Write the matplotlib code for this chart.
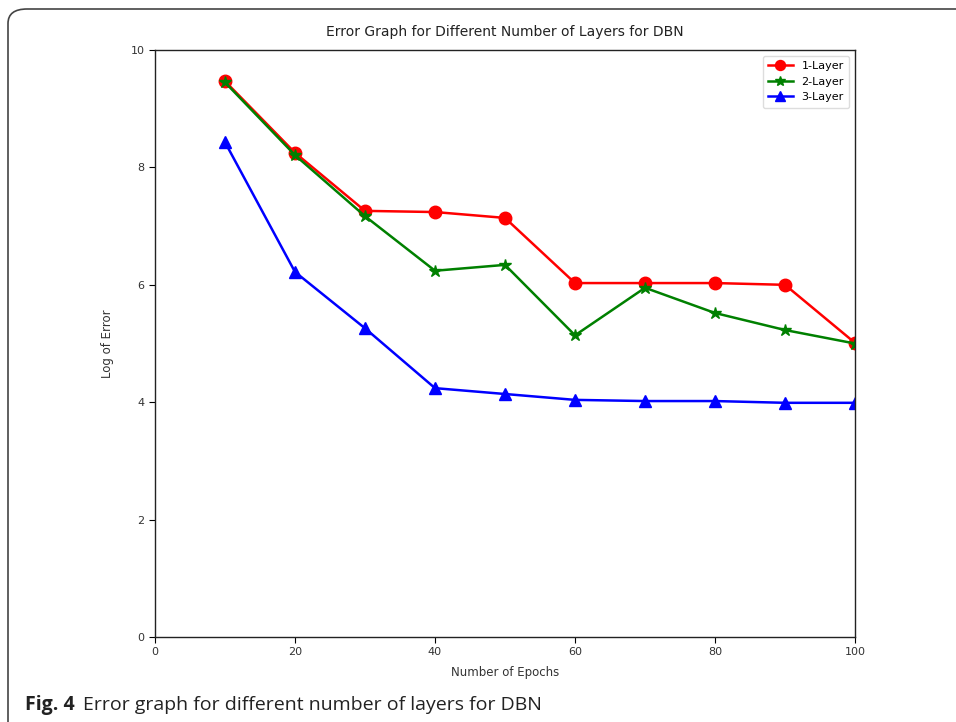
import matplotlib
matplotlib.use("Agg")
import matplotlib.pyplot as plt
from matplotlib.patches import FancyBboxPatch

epochs = [10, 20, 30, 40, 50, 60, 70, 80, 90, 100]
layer1 = [9.47, 8.25, 7.26, 7.24, 7.14, 6.03, 6.03, 6.03, 6.00, 5.01]
layer2 = [9.45, 8.21, 7.17, 6.24, 6.34, 5.14, 5.95, 5.52, 5.23, 5.00]
layer3 = [8.43, 6.22, 5.26, 4.24, 4.14, 4.04, 4.02, 4.02, 3.99, 3.99]
labels = ["1-Layer", "2-Layer", "3-Layer"]

narrow = ["Liberation Sans Narrow", "DejaVu Sans"]

fig = plt.figure(figsize=(9.56, 7.22), dpi=100)
ax = fig.add_axes([0.1621, 0.1177, 0.7323, 0.813])

ax.plot(epochs, layer1, "o-", color="red", lw=1.8, ms=9, label=labels[0])
ax.plot(epochs, layer2, "*-", color="green", lw=1.8, ms=9, label=labels[1])
ax.plot(epochs, layer3, "^-", color="blue", lw=1.8, ms=9, label=labels[2])

ax.set_xlim(0, 100)
ax.set_ylim(0, 10)
ax.set_xticks([0, 20, 40, 60, 80, 100])
ax.set_yticks([0, 2, 4, 6, 8, 10])
for lab in ax.get_xticklabels() + ax.get_yticklabels():
    lab.set_family(narrow)
    lab.set_fontsize(8)
    lab.set_color("#333333")
ax.tick_params(length=4, width=0.8)
for s in ax.spines.values():
    s.set_linewidth(1.0)
    s.set_color("#222222")

ax.set_title("Error Graph for Different Number of Layers for DBN",
             family=narrow, fontsize=10, color="#222222", pad=10)
ax.set_xlabel("Number of Epochs", family=narrow, fontsize=8.5, color="#333333", labelpad=6)
ax.set_ylabel("Log of Error", family=narrow, fontsize=8.5, color="#333333", labelpad=12)

leg = ax.legend(loc="upper right", prop={"family": narrow, "size": 8}, framealpha=1,
                edgecolor="#dddddd", handlelength=2.2, borderpad=0.5, markerscale=0.8)

# rounded frame around the figure
box = FancyBboxPatch((8 / 956, -0.1), 1.2, 0.1 + (722 - 9) / 722,
                     boxstyle="round,pad=0,rounding_size=0.02",
                     transform=fig.transFigure, fill=False,
                     edgecolor="#444444", lw=1.2, clip_on=False)
fig.patches.append(box)

# caption: bold label then the rest right after it
cap_y = (722 - 705) / 722
t1 = fig.text(25 / 956, cap_y, "Fig. 4", fontsize=14, family="Open Sans",
              weight="bold", va="center", color="#222222")
fig.canvas.draw()
bb = t1.get_window_extent()
fig.text((bb.x1 + 8) / 956, cap_y, "Error graph for different number of layers for DBN",
         fontsize=14, family="Open Sans", va="center", color="#222222")

fig.savefig("out.png", dpi=100)
